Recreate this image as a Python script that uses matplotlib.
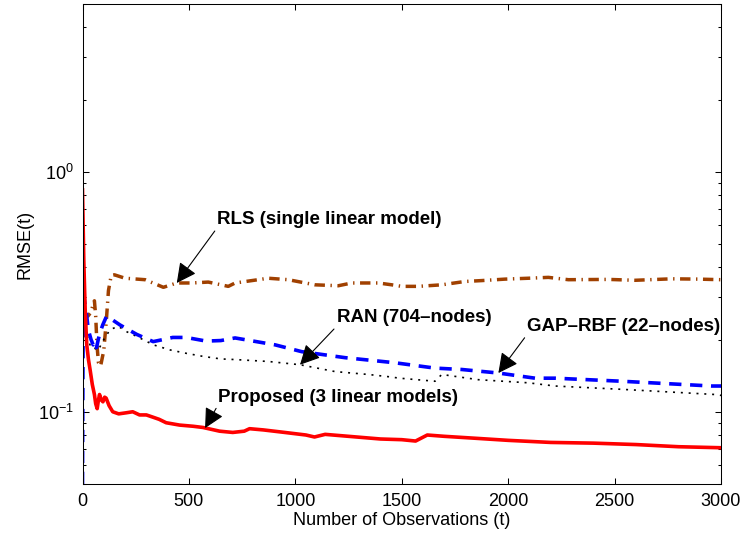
import matplotlib
matplotlib.use("Agg")
import matplotlib.pyplot as plt
from matplotlib.ticker import NullFormatter, LogLocator

plt.rcParams['font.family'] = ['Liberation Sans', 'DejaVu Sans']
plt.rcParams['mathtext.fontset'] = 'custom'
plt.rcParams['mathtext.rm'] = 'Liberation Sans'

# ---- data ----
prop_t = [0, 3, 6, 10, 13, 20, 28, 36, 46, 56, 62, 69, 75, 80, 88, 96, 104, 111,
          125, 142, 170, 205, 236, 268, 300, 330, 360, 393, 456, 520, 566, 644,
          706, 760, 785, 850, 950, 1050, 1090, 1140, 1250, 1400, 1500, 1565,
          1620, 1700, 1850, 2000, 2200, 2400, 2600, 2800, 3000]
prop_v = [0.84, 0.6, 0.43, 0.32, 0.26, 0.19, 0.165, 0.149, 0.13, 0.118, 0.108,
          0.103, 0.112, 0.118, 0.112, 0.110, 0.115, 0.114, 0.106, 0.100, 0.098,
          0.099, 0.100, 0.097, 0.097, 0.095, 0.093, 0.090, 0.088, 0.087, 0.086,
          0.083, 0.082, 0.083, 0.085, 0.084, 0.082, 0.080, 0.0785, 0.0805,
          0.079, 0.077, 0.0765, 0.0755, 0.080, 0.079, 0.0775, 0.076, 0.0745,
          0.074, 0.073, 0.0715, 0.0708]

gap_t = [0, 2, 4, 12, 20, 27, 40, 50, 59, 66, 74, 82, 95, 113, 130, 176, 255,
         332, 380, 424, 487, 581, 650, 717, 905, 1030, 1234, 1468, 1656, 1782,
         1954, 2126, 2220, 2534, 2957, 3000]
gap_v = [0.05, 0.15, 0.31, 0.28, 0.25, 0.22, 0.20, 0.19, 0.196, 0.185, 0.20,
         0.213, 0.23, 0.25, 0.245, 0.23, 0.21, 0.196, 0.20, 0.204, 0.204, 0.197,
         0.198, 0.203, 0.19, 0.178, 0.168, 0.16, 0.152, 0.15, 0.145, 0.138,
         0.138, 0.134, 0.128, 0.128]

ran_t = [0, 8, 20, 35, 50, 65, 80, 100, 130, 168, 210, 255, 333, 411, 490, 568,
         650, 717, 873, 1022, 1187, 1343, 1437, 1490, 1656, 1688, 1860, 2095,
         2220, 2534, 2972, 3000]
ran_v = [0.30, 0.24, 0.21, 0.19, 0.19, 0.18, 0.185, 0.20, 0.22, 0.227, 0.215,
         0.206, 0.19, 0.181, 0.175, 0.17, 0.166, 0.165, 0.162, 0.157, 0.147,
         0.143, 0.14, 0.138, 0.134, 0.143, 0.136, 0.132, 0.128, 0.124, 0.118,
         0.117]

rls_t = [0, 10, 25, 40, 50, 56, 62, 68, 75, 85, 100, 112, 122, 135, 150, 200,
         294, 380, 443, 513, 591, 685, 717, 873, 967, 1092, 1202, 1265, 1390,
         1453, 1500, 1578, 1688, 1797, 1876, 1986, 2095, 2189, 2283, 2471,
         2596, 2768, 2893, 3000]
rls_v = [0.26, 0.255, 0.25, 0.26, 0.28, 0.29, 0.25, 0.19, 0.16, 0.155, 0.18,
         0.24, 0.32, 0.37, 0.372, 0.36, 0.355, 0.33, 0.344, 0.344, 0.347, 0.333,
         0.344, 0.36, 0.355, 0.338, 0.335, 0.344, 0.344, 0.338, 0.333, 0.333,
         0.338, 0.349, 0.352, 0.357, 0.36, 0.363, 0.355, 0.356, 0.353, 0.358,
         0.357, 0.355]

labels = ['RLS (single linear model)', 'RAN (704\u2013nodes)',
          'GAP\u2013RBF (22\u2013nodes)', 'Proposed (3 linear models)']
label_xy = [(631, 0.631), (1194, 0.2464), (2087, 0.2266), (635, 0.1151)]
arrow_tip = [(443, 0.344), (1022, 0.157), (1954, 0.145), (576, 0.0855)]

fig = plt.figure(figsize=(7.46, 5.42), dpi=100)
ax = fig.add_axes([82.5 / 746, 1 - 484 / 542, 638.5 / 746, 480 / 542])

ax.plot(rls_t, rls_v, color='#a04000', lw=2.5, dashes=(3.0, 1.6, 0.4, 1.6))
ax.plot(ran_t, ran_v, color='black', lw=1.2, dashes=(1.2, 3.5))
ax.plot(gap_t, gap_v, color='#0000ff', lw=2.6, dashes=(3.4, 2.4))
ax.plot(prop_t, prop_v, color='#ff0000', lw=2.6)

ax.set_yscale('log')
ax.set_xlim(0, 3000)
ax.set_ylim(0.05, 5)
ax.set_xticks(range(0, 3001, 500))
ax.yaxis.set_minor_locator(LogLocator(base=10, subs=range(2, 10)))
ax.yaxis.set_minor_formatter(NullFormatter())

ax.tick_params(which='both', direction='in', top=True, right=True,
               labelsize=13, width=0.75)
ax.tick_params(which='major', length=4.5, pad=6.5)
ax.tick_params(which='minor', length=2.5)
for s in ax.spines.values():
    s.set_linewidth(0.75)

ax.set_xlabel('Number of Observations (t)', fontsize=13)
ax.set_ylabel('RMSE(t)', fontsize=13)
ax.xaxis.set_label_coords(0.5, -0.058)
ax.yaxis.set_label_coords(-0.076, 0.5)

for txt, pos, tip in zip(labels, label_xy, arrow_tip):
    ax.annotate(txt, xy=tip, xytext=pos, ha='left', va='center',
                fontsize=13.5, fontweight='bold',
                arrowprops=dict(arrowstyle='-|>,head_length=0.55,head_width=0.28',
                                color='black', lw=0.8, mutation_scale=22,
                                shrinkA=0, shrinkB=0, relpos=(0, 0)))

fig.savefig('out.png', dpi=100)
